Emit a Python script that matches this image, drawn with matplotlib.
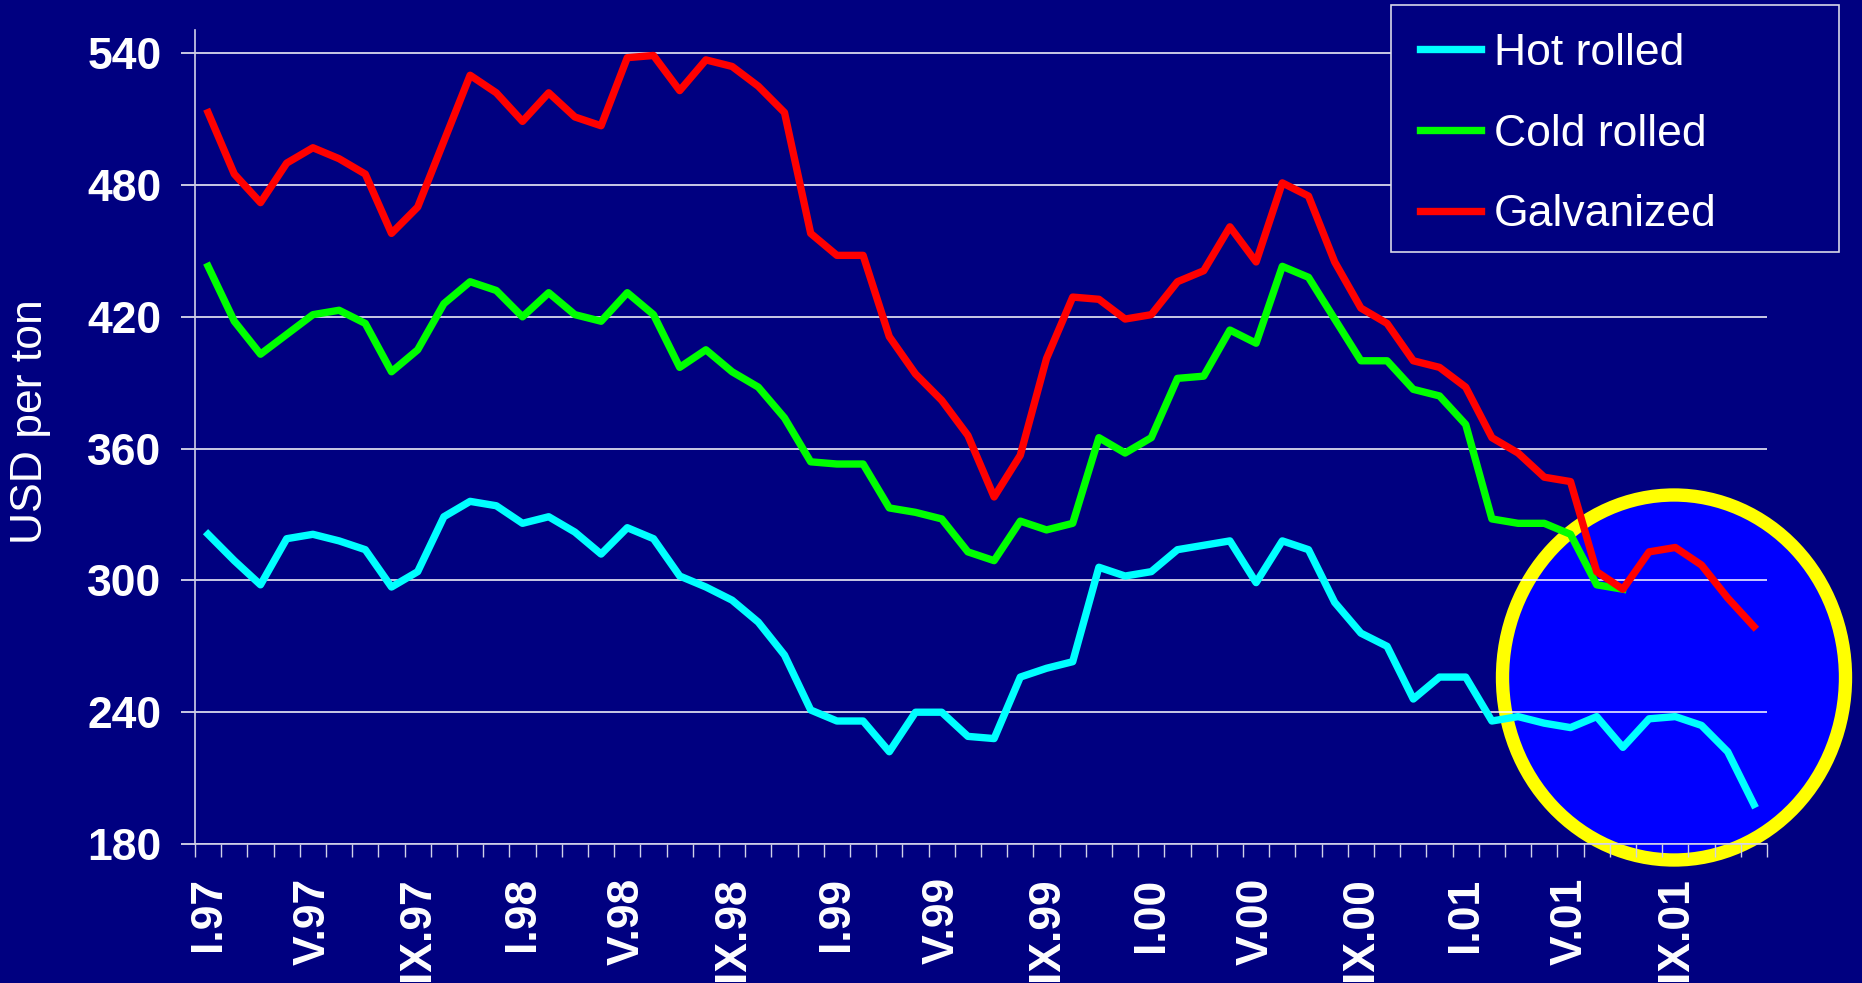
import numpy as np
import matplotlib
matplotlib.use("Agg")
from matplotlib import pyplot as plt
from matplotlib.patches import Ellipse, Rectangle

plt.rcParams['font.family'] = ['Liberation Sans', 'DejaVu Sans']

# monthly prices, I.97 .. XII.01 (USD per ton)
hot_rolled = [321, 309, 298, 319, 321, 318, 314, 297, 304, 329,
              336, 334, 326, 329, 322, 312, 324, 319, 302, 297,
              291, 281, 266, 241, 236, 236, 222, 240, 240, 229,
              228, 256, 260, 263, 306, 302, 304, 314, 316, 318,
              299, 318, 314, 290, 276, 270, 246, 256, 256, 236,
              238, 235, 233, 238, 224, 237, 238, 234, 222, 198]
cold_rolled = [443, 418, 403, 412, 421, 423, 417, 395, 405, 426,
               436, 432, 420, 431, 421, 418, 431, 421, 397, 405,
               395, 388, 374, 354, 353, 353, 333, 331, 328, 313,
               309, 327, 323, 326, 365, 358, 365, 392, 393, 414,
               408, 443, 438, 419, 400, 400, 387, 384, 371, 328,
               326, 326, 321, 298, 296] + [np.nan] * 5
galvanized = [513, 485, 472, 490, 497, 492, 485, 458, 470, 500,
              530, 522, 509, 522, 511, 507, 538, 539, 523, 537,
              534, 525, 513, 458, 448, 448, 411, 394, 382, 366,
              338, 357, 401, 429, 428, 419, 421, 436, 441, 461,
              445, 481, 475, 445, 424, 417, 400, 397, 388, 365,
              358, 347, 345, 304, 296, 313, 315, 307, 292, 279]
month_labels = ['I.97', 'V.97', 'IX.97', 'I.98', 'V.98', 'IX.98', 'I.99', 'V.99',
                'IX.99', 'I.00', 'V.00', 'IX.00', 'I.01', 'V.01', 'IX.01']
y_ticks = [180, 240, 300, 360, 420, 480, 540]

navy = '#000080'
W, H = 1862, 983
fig = plt.figure(figsize=(W / 100, H / 100), dpi=100, facecolor=navy)
ax = fig.add_axes([195 / W, 1 - 844 / H, (1767 - 195) / W, (844 - 30) / H])
ax.set_facecolor(navy)

x = np.arange(len(hot_rolled))
lw = 5.3
ax.plot(x, hot_rolled, color='#00FFFF', lw=lw, label='Hot rolled', zorder=3)
ax.plot(x, cold_rolled, color='#00FF00', lw=lw, label='Cold rolled', zorder=3)
ax.plot(x, galvanized, color='#FF0000', lw=lw, label='Galvanized', zorder=3)

ax.set_xlim(-0.5, len(x) - 0.5)
ax.set_ylim(180, 550.6)
ax.set_yticks(y_ticks)
ax.set_yticklabels([str(v) for v in y_ticks], fontsize=32, fontweight='bold', color='white')
ax.set_xticks(np.arange(0, len(x), 4))
ax.set_xticklabels(month_labels, rotation=90, fontsize=32, fontweight='bold', color='white')
ax.set_xticks(np.arange(-0.5, len(x), 1), minor=True)
ax.tick_params(axis='x', which='major', length=0, pad=24)
ax.tick_params(axis='x', which='minor', length=9.5, width=1, color='#d0d0e8', direction='out')
ax.tick_params(axis='y', length=10, width=1.1, color='white', pad=14)

ax.set_axisbelow(True)
ax.grid(axis='y', color='white', lw=1.1)
for s in ['top', 'right']:
    ax.spines[s].set_visible(False)
for s in ['left', 'bottom']:
    ax.spines[s].set_color('#d0d0e8')
    ax.spines[s].set_linewidth(1.2)

fig.text(31 / W, 1 - 422 / H, 'USD per ton', rotation=90, fontsize=32,
         color='white', ha='center', va='center')

# highlight circle
ring = Ellipse((1674 / W, 1 - 677.5 / H), 343 / W, 365 / H, transform=fig.transFigure,
               facecolor='#0000FF', edgecolor='#FFFF00', lw=9.6, zorder=0.2, clip_on=False)
ax.add_artist(ring)

# legend box
box = Rectangle((1390.5 / W, 1 - 251.5 / H), 448 / W, 246 / H, transform=fig.transFigure,
                facecolor=navy, edgecolor='#d8d8e8', lw=1.2, zorder=5)
fig.add_artist(box)
leg = fig.legend(loc='upper left', bbox_to_anchor=(1420 / W, 1 - 33 / H), frameon=False,
                 fontsize=32, handlelength=1.37, handletextpad=0.3, labelspacing=0.89,
                 borderpad=0, borderaxespad=0)
leg.set_zorder(6)
for t in leg.get_texts():
    t.set_color('white')
for h in leg.get_lines():
    h.set_linewidth(5.3)

fig.savefig('out.png', dpi=100, facecolor=navy)
